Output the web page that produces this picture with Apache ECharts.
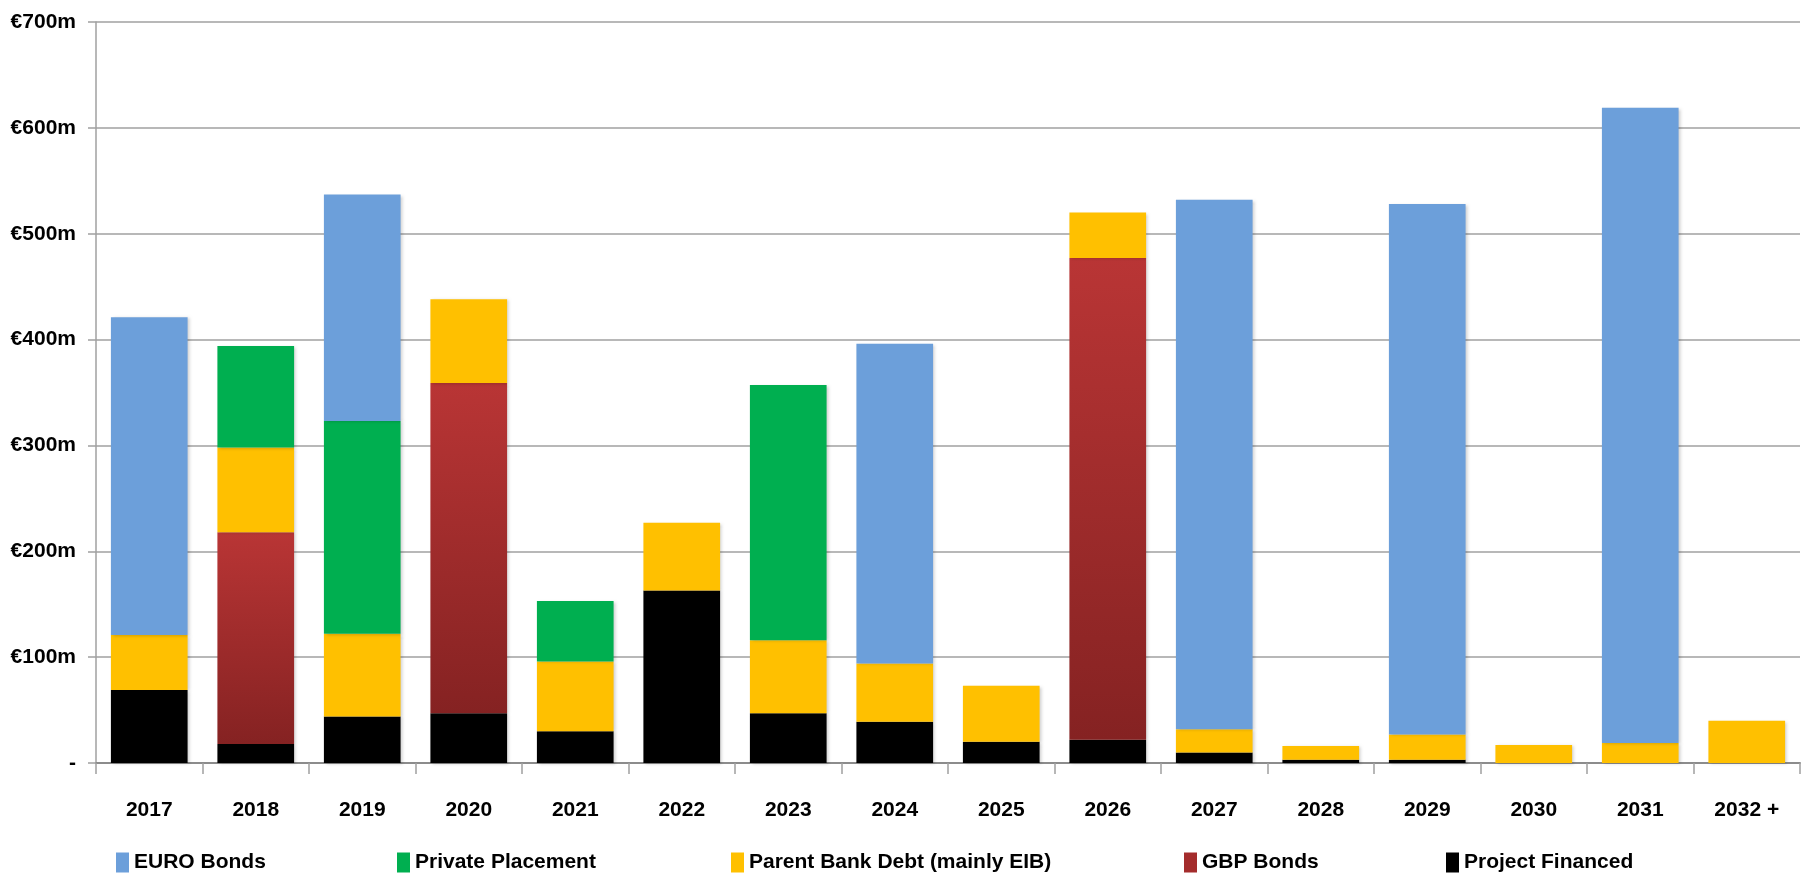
<!DOCTYPE html>
<html>
<head>
<meta charset="utf-8">
<script src="https://cdn.jsdelivr.net/npm/echarts@6/dist/echarts.min.js"></script>
<style>
html,body{margin:0;padding:0;background:#fff;}
#chart{width:1801px;height:881px;}
</style>
</head>
<body>
<div id="chart"></div>
<script>
const categories = ['2017','2018','2019','2020','2021','2022','2023','2024','2025','2026','2027','2028','2029','2030','2031','2032 +'];
const projectFinanced = [69, 18, 44, 47, 30, 163, 47, 39, 20, 22, 10, 3, 3, 0, 0, 0];
const gbpBonds        = [0, 200, 0, 312, 0, 0, 0, 0, 0, 455, 0, 0, 0, 0, 0, 0];
const parentBankDebt  = [52, 80, 78, 79, 66, 64, 69, 55, 53, 43, 22, 13, 24, 17, 19, 40];
const privatePlacement= [0, 96, 201, 0, 57, 0, 241, 0, 0, 0, 0, 0, 0, 0, 0, 0];
const euroBonds       = [300, 0, 214, 0, 0, 0, 0, 302, 0, 0, 500, 0, 501, 0, 600, 0];
const yTicks = [0, 100, 200, 300, 400, 500, 600, 700];

const FONT = "'Liberation Sans', Arial, sans-serif";
const gbpGradient = {type:'linear', x:0, y:0, x2:0, y2:1, colorStops:[{offset:0,color:'#B93535'},{offset:1,color:'#852222'}]};
const colors = {euro:'#6C9FDA', priv:'#00AF50', parent:'#FFC000', gbp:gbpGradient, proj:'#000000'};

const shadow = {shadowColor:'rgba(0,0,0,0.18)', shadowBlur:3, shadowOffsetX:2, shadowOffsetY:1};
function mk(name, data, color){
  return {name, type:'bar', stack:'total', data, barCategoryGap:'28%',
    itemStyle:Object.assign({color}, shadow), emphasis:{disabled:true}};
}
const legendText = {fontFamily:FONT, fontWeight:'bold', fontSize:21, color:'#000'};
function lg(name, left){
  return {data:[name], left, top:847, itemWidth:13, itemHeight:20, itemGap:0,
    textStyle:legendText, selectedMode:false, icon:'rect'};
}

const chart = echarts.init(document.getElementById('chart'), null, {renderer:'canvas'});
chart.setOption({
  animation:false,
  backgroundColor:'#fff',
  grid:{left:96, right:1, top:22, bottom:118, containLabel:false},
  legend:[
    lg('EURO Bonds', 111),
    lg('Private Placement', 392),
    lg('Parent Bank Debt (mainly EIB)', 726),
    Object.assign(lg('GBP Bonds', 1179), {itemStyle:{color:'#A42C2C'}}),
    lg('Project Financed', 1441)
  ],
  xAxis:{type:'category', data:categories,
    axisLine:{lineStyle:{color:'#8c8c8c', width:2}},
    axisTick:{show:true, length:11, lineStyle:{color:'#a0a0a0', width:1.5}},
    axisLabel:{interval:0, fontFamily:FONT, fontWeight:'bold', fontSize:21, color:'#000', margin:37}
  },
  yAxis:{type:'value', min:0, max:700, interval:100,
    axisLine:{show:true, lineStyle:{color:'#a0a0a0', width:1.5}},
    axisTick:{show:true, length:8, lineStyle:{color:'#a0a0a0', width:1.5}},
    splitLine:{lineStyle:{color:'#a0a0a0', width:1.5}},
    axisLabel:{fontFamily:FONT, fontWeight:'bold', fontSize:21, color:'#000', margin:20,
      formatter:v => yTicks.includes(v) ? (v===0 ? '-' : '€'+v+'m') : ''}
  },
  series:[
    mk('Project Financed', projectFinanced, colors.proj),
    mk('GBP Bonds', gbpBonds, colors.gbp),
    mk('Parent Bank Debt (mainly EIB)', parentBankDebt, colors.parent),
    mk('Private Placement', privatePlacement, colors.priv),
    mk('EURO Bonds', euroBonds, colors.euro)
  ]
});
</script>
</body>
</html>
